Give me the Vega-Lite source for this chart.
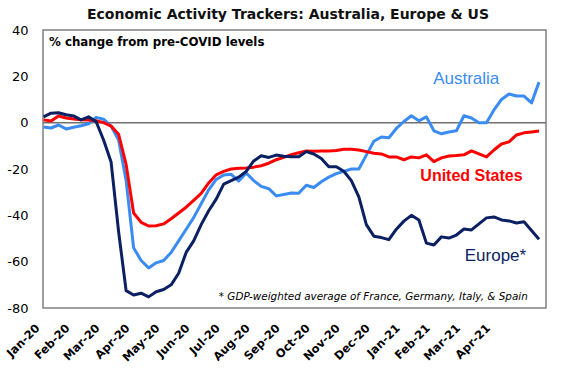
{
  "$schema": "https://vega.github.io/schema/vega-lite/v6.json",
  "width": 503,
  "height": 278,
  "autosize": "none",
  "padding": {"left": 43, "top": 30, "right": 20, "bottom": 62},
  "background": "white",
  "title": {"text": "Economic Activity Trackers: Australia, Europe & US", "anchor": "start", "frame": "group", "dx": 44, "offset": 2, "font": "DejaVu Sans", "fontSize": 14, "fontWeight": "bold", "color": "#111111"},
  "config": {"view": {"stroke": "#808080", "strokeWidth": 1.5}, "font": "Liberation Sans", "axis": {"labelOverlap": false}, "axisX": {"labelOverlap": false}},
  "encoding": {
    "x": {"field": "w", "type": "quantitative", "scale": {"domain": [-0.07, 66.93], "nice": false, "zero": false},
      "axis": {"values": [0,4,8,12,16,20,24,28,32,36,40,44,48,52,56,60], "title": null, "grid": false, "ticks": false, "domain": false,
        "labelExpr": "['Jan-20','Feb-20','Mar-20','Apr-20','May-20','Jun-20','Jul-20','Aug-20','Sep-20','Oct-20','Nov-20','Dec-20','Jan-21','Feb-21','Mar-21','Apr-21'][round(datum.value/4)]",
        "labelAngle": -45, "labelAlign": "right", "labelBaseline": "top", "labelFontSize": 11.5, "labelFontWeight": "bold", "labelColor": "black", "labelPadding": 14, "labelOffset": -10, "labelFont": "DejaVu Sans", "labelOverlap": false, "labelBound": false, "labelFlush": false}},
    "y": {"field": "v", "type": "quantitative", "scale": {"domain": [-80, 40], "nice": false},
      "axis": {"values": [-80,-60,-40,-20,0,20,40], "title": null, "grid": false, "ticks": false, "domain": false,
        "labelExpr": "'' + datum.value", "labelFontSize": 13, "labelColor": "black", "labelPadding": 15, "labelFont": "DejaVu Sans", "labelFlush": false, "labelBound": false}}
  },
  "layer": [
    {
      "data": {"values": [{"w": -0.07, "v": 0}, {"w": 66.93, "v": 0}]},
      "mark": {"type": "line", "color": "#707070", "strokeWidth": 1.5}
    },
    {
      "data": {"values": [
        {"w":0,"Australia":-1.9,"United States":1.2,"Europe":2.5},
        {"w":1,"Australia":-2.3,"United States":0.7,"Europe":4.1},
        {"w":2,"Australia":-1,"United States":2.9,"Europe":4.3},
        {"w":3,"Australia":-2.7,"United States":2,"Europe":3.4},
        {"w":4,"Australia":-2,"United States":1.6,"Europe":2.9},
        {"w":5,"Australia":-1.3,"United States":1.3,"Europe":1.2},
        {"w":6,"Australia":-0.5,"United States":1.2,"Europe":2.5},
        {"w":7,"Australia":2.3,"United States":0.8,"Europe":0.5},
        {"w":8,"Australia":1.5,"United States":0,"Europe":-7.5},
        {"w":9,"Australia":-1.5,"United States":-1.5,"Europe":-17},
        {"w":10,"Australia":-7.5,"United States":-5,"Europe":-47},
        {"w":11,"Australia":-25,"United States":-18,"Europe":-72.5},
        {"w":12,"Australia":-54,"United States":-39,"Europe":-74.4},
        {"w":13,"Australia":-59.5,"United States":-43,"Europe":-73.6},
        {"w":14,"Australia":-62.7,"United States":-44.6,"Europe":-75.2},
        {"w":15,"Australia":-60.5,"United States":-44.5,"Europe":-73},
        {"w":16,"Australia":-59.5,"United States":-43.7,"Europe":-72},
        {"w":17,"Australia":-56,"United States":-41.5,"Europe":-70},
        {"w":18,"Australia":-51,"United States":-39,"Europe":-65},
        {"w":19,"Australia":-46,"United States":-36.5,"Europe":-56},
        {"w":20,"Australia":-41,"United States":-33.5,"Europe":-51},
        {"w":21,"Australia":-35,"United States":-30.5,"Europe":-44},
        {"w":22,"Australia":-29,"United States":-26,"Europe":-38},
        {"w":23,"Australia":-24.5,"United States":-22.5,"Europe":-33},
        {"w":24,"Australia":-22.6,"United States":-21,"Europe":-26.5},
        {"w":25,"Australia":-22.3,"United States":-20,"Europe":-25},
        {"w":26,"Australia":-25.2,"United States":-19.7,"Europe":-23.5},
        {"w":27,"Australia":-21.7,"United States":-19.6,"Europe":-21},
        {"w":28,"Australia":-25,"United States":-19.2,"Europe":-16.5},
        {"w":29,"Australia":-27.5,"United States":-18.6,"Europe":-14.3},
        {"w":30,"Australia":-28.5,"United States":-17.5,"Europe":-15},
        {"w":31,"Australia":-31.6,"United States":-16,"Europe":-14},
        {"w":32,"Australia":-31,"United States":-15,"Europe":-14.5},
        {"w":33,"Australia":-30.4,"United States":-13.8,"Europe":-14.7},
        {"w":34,"Australia":-30.5,"United States":-13,"Europe":-14.7},
        {"w":35,"Australia":-27,"United States":-12.2,"Europe":-12.5},
        {"w":36,"Australia":-28,"United States":-12.3,"Europe":-13.5},
        {"w":37,"Australia":-25.5,"United States":-12.2,"Europe":-15.5},
        {"w":38,"Australia":-23.5,"United States":-12.2,"Europe":-19},
        {"w":39,"Australia":-22,"United States":-12,"Europe":-19},
        {"w":40,"Australia":-21,"United States":-11.5,"Europe":-21},
        {"w":41,"Australia":-20,"United States":-11.5,"Europe":-25},
        {"w":42,"Australia":-20,"United States":-11.8,"Europe":-32},
        {"w":43,"Australia":-14,"United States":-12.5,"Europe":-44},
        {"w":44,"Australia":-8,"United States":-13.2,"Europe":-49},
        {"w":45,"Australia":-6.2,"United States":-13.5,"Europe":-49.6},
        {"w":46,"Australia":-6.5,"United States":-14.8,"Europe":-50.5},
        {"w":47,"Australia":-2.5,"United States":-14.8,"Europe":-46},
        {"w":48,"Australia":0.5,"United States":-16,"Europe":-42.5},
        {"w":49,"Australia":3,"United States":-14.8,"Europe":-40},
        {"w":50,"Australia":0.8,"United States":-15.2,"Europe":-42},
        {"w":51,"Australia":2.5,"United States":-13.9,"Europe":-52},
        {"w":52,"Australia":-3.5,"United States":-16.8,"Europe":-52.8},
        {"w":53,"Australia":-4.8,"United States":-15.2,"Europe":-49.3},
        {"w":54,"Australia":-4,"United States":-14.4,"Europe":-49.8},
        {"w":55,"Australia":-3.5,"United States":-14.2,"Europe":-48.5},
        {"w":56,"Australia":3,"United States":-13.9,"Europe":-45.9},
        {"w":57,"Australia":2,"United States":-12.2,"Europe":-46.3},
        {"w":58,"Australia":0,"United States":-13.5,"Europe":-43.7},
        {"w":59,"Australia":0,"United States":-14.8,"Europe":-41.1},
        {"w":60,"Australia":5.5,"United States":-11.8,"Europe":-40.7},
        {"w":61,"Australia":10,"United States":-9.2,"Europe":-42},
        {"w":62,"Australia":12.4,"United States":-8.3,"Europe":-42.4},
        {"w":63,"Australia":11.5,"United States":-5.3,"Europe":-43.3},
        {"w":64,"Australia":11.5,"United States":-4.4,"Europe":-42.8},
        {"w":65,"Australia":8.5,"United States":-4,"Europe":-46.5},
        {"w":66,"Australia":17.5,"United States":-3.6,"Europe":-50.3}
      ]},
      "transform": [{"fold": ["Australia", "United States", "Europe"], "as": ["series", "v"]}],
      "mark": {"type": "line", "strokeWidth": 3, "strokeJoin": "round"},
      "encoding": {
        "color": {"field": "series", "type": "nominal", "scale": {"domain": ["Australia", "United States", "Europe"], "range": ["#3A8CF3", "#FF0000", "#0B1F63"]}, "legend": null}
      }
    },
    {
      "data": {"values": [{"w": 56.3, "v": 19, "t": "Australia"}]},
      "mark": {"type": "text", "align": "center", "baseline": "middle", "fontSize": 17, "color": "#3A8CF3", "font": "Liberation Sans"},
      "encoding": {"text": {"field": "t"}}
    },
    {
      "data": {"values": [{"w": 57, "v": -22.9, "t": "United States"}]},
      "mark": {"type": "text", "align": "center", "baseline": "middle", "fontSize": 16, "fontWeight": "bold", "color": "#FF0000", "font": "Liberation Sans"},
      "encoding": {"text": {"field": "t"}}
    },
    {
      "data": {"values": [{"w": 60.2, "v": -57.5, "t": "Europe*"}]},
      "mark": {"type": "text", "align": "center", "baseline": "middle", "fontSize": 17, "color": "#0B1F63", "font": "Liberation Sans"},
      "encoding": {"text": {"field": "t"}}
    },
    {
      "data": {"values": [{"w": 0.73, "v": 34.7, "t": "%  change from pre-COVID levels"}]},
      "mark": {"type": "text", "align": "left", "baseline": "middle", "fontSize": 11.8, "fontWeight": "bold", "color": "black", "font": "DejaVu Sans"},
      "encoding": {"text": {"field": "t"}}
    },
    {
      "data": {"values": [{"w": 64.5, "v": -75.2, "t": "* GDP-weighted average of France, Germany, Italy, & Spain"}]},
      "mark": {"type": "text", "align": "right", "baseline": "middle", "fontSize": 10.4, "fontStyle": "italic", "color": "black", "font": "DejaVu Sans"},
      "encoding": {"text": {"field": "t"}}
    }
  ]
}
